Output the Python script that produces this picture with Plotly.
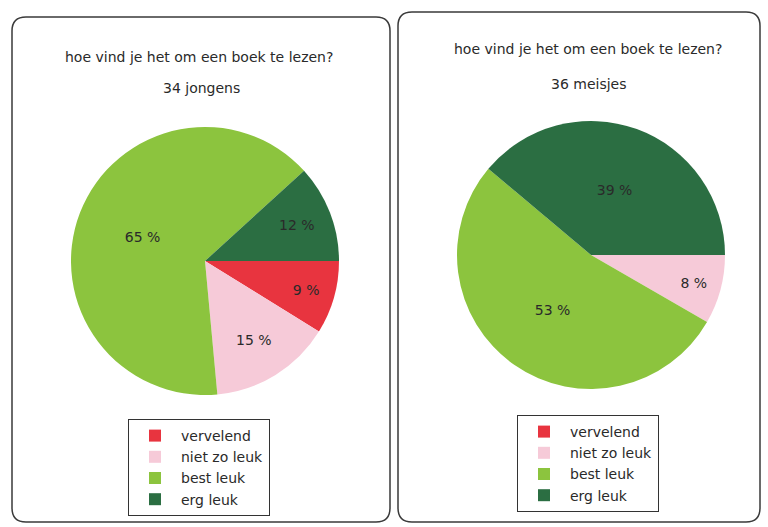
import plotly.graph_objects as go

W, H = 768, 527

categories = ["vervelend", "niet zo leuk", "best leuk", "erg leuk"]
colors = ["#e8343f", "#f6cad8", "#8cc43e", "#2b6e42"]
boys_counts = [3, 5, 22, 4]
girls_counts = [0, 3, 19, 14]
title_text = "hoe vind je het om een boek te lezen?"
boys_sub = "34 jongens"
girls_sub = "36 meisjes"


def px_x(x):
    return x / W


def px_y(y):
    return 1 - y / H


def pct_text(vals):
    s = sum(vals)
    return [f"{round(v / s * 100)} %" for v in vals]


txtfont = dict(color="#2a2a2a", size=14, family="DejaVu Sans")

fig = go.Figure()

fig.add_trace(go.Pie(
    labels=categories, values=boys_counts, text=pct_text(boys_counts),
    textinfo="text", textposition="inside", insidetextorientation="horizontal",
    marker=dict(colors=colors, line=dict(width=0)),
    sort=False, direction="clockwise", rotation=90,
    domain=dict(x=[px_x(71), px_x(339)], y=[px_y(395), px_y(127)]),
    textfont=txtfont, insidetextfont=txtfont,
    legend="legend", legendgroup="boys", showlegend=True, hoverinfo="label+percent",
))

fig.add_trace(go.Pie(
    labels=categories, values=girls_counts, text=pct_text(girls_counts),
    textinfo="text", textposition="inside", insidetextorientation="horizontal",
    marker=dict(colors=colors, line=dict(width=0)),
    sort=False, direction="clockwise", rotation=90,
    domain=dict(x=[px_x(457), px_x(725)], y=[px_y(391), px_y(119)]),
    textfont=txtfont, insidetextfont=txtfont,
    legend="legend2", legendgroup="girls", showlegend=True, hoverinfo="label+percent",
))


def rounded_box(x0, y0, x1, y1, r):
    X0, X1 = px_x(x0), px_x(x1)
    Y0, Y1 = px_y(y0), px_y(y1)
    rx, ry = r / W, r / H
    return (f"M {X0 + rx},{Y0} L {X1 - rx},{Y0} Q {X1},{Y0} {X1},{Y0 - ry} "
            f"L {X1},{Y1 + ry} Q {X1},{Y1} {X1 - rx},{Y1} L {X0 + rx},{Y1} "
            f"Q {X0},{Y1} {X0},{Y1 + ry} L {X0},{Y0 - ry} Q {X0},{Y0} {X0 + rx},{Y0} Z")


shapes = [
    dict(type="path", xref="paper", yref="paper", path=rounded_box(12, 17, 390, 522, 14),
         line=dict(color="#3a3a3a", width=1.5), layer="below"),
    dict(type="path", xref="paper", yref="paper", path=rounded_box(398, 12, 760, 522, 14),
         line=dict(color="#3a3a3a", width=1.5), layer="below"),
]

font_main = dict(family="DejaVu Sans", size=14, color="#2a2a2a")
annotations = [
    dict(text=title_text, x=px_x(199), y=px_y(57), xref="paper", yref="paper",
         showarrow=False, font=font_main, xanchor="center", yanchor="middle"),
    dict(text=boys_sub, x=px_x(201), y=px_y(88), xref="paper", yref="paper",
         showarrow=False, font=font_main, xanchor="center", yanchor="middle"),
    dict(text=title_text, x=px_x(588), y=px_y(49), xref="paper", yref="paper",
         showarrow=False, font=font_main, xanchor="center", yanchor="middle"),
    dict(text=girls_sub, x=px_x(589), y=px_y(84), xref="paper", yref="paper",
         showarrow=False, font=font_main, xanchor="center", yanchor="middle"),
]

legend_common = dict(
    bgcolor="white", bordercolor="#333333", borderwidth=1,
    font=dict(family="DejaVu Sans", size=14, color="#2a2a2a"),
    xref="paper", yref="paper", xanchor="left", yanchor="top",
    tracegroupgap=0, itemsizing="constant", itemwidth=42,
)

fig.update_layout(
    width=W, height=H,
    margin=dict(l=0, r=0, t=0, b=0),
    paper_bgcolor="white", plot_bgcolor="white",
    shapes=shapes, annotations=annotations,
    legend=dict(x=px_x(128), y=px_y(419), **legend_common),
    legend2=dict(x=px_x(517), y=px_y(415), **legend_common),
)

fig.write_html("out.html", config={"displayModeBar": False},
               post_script="document.body.style.margin='0px';")
